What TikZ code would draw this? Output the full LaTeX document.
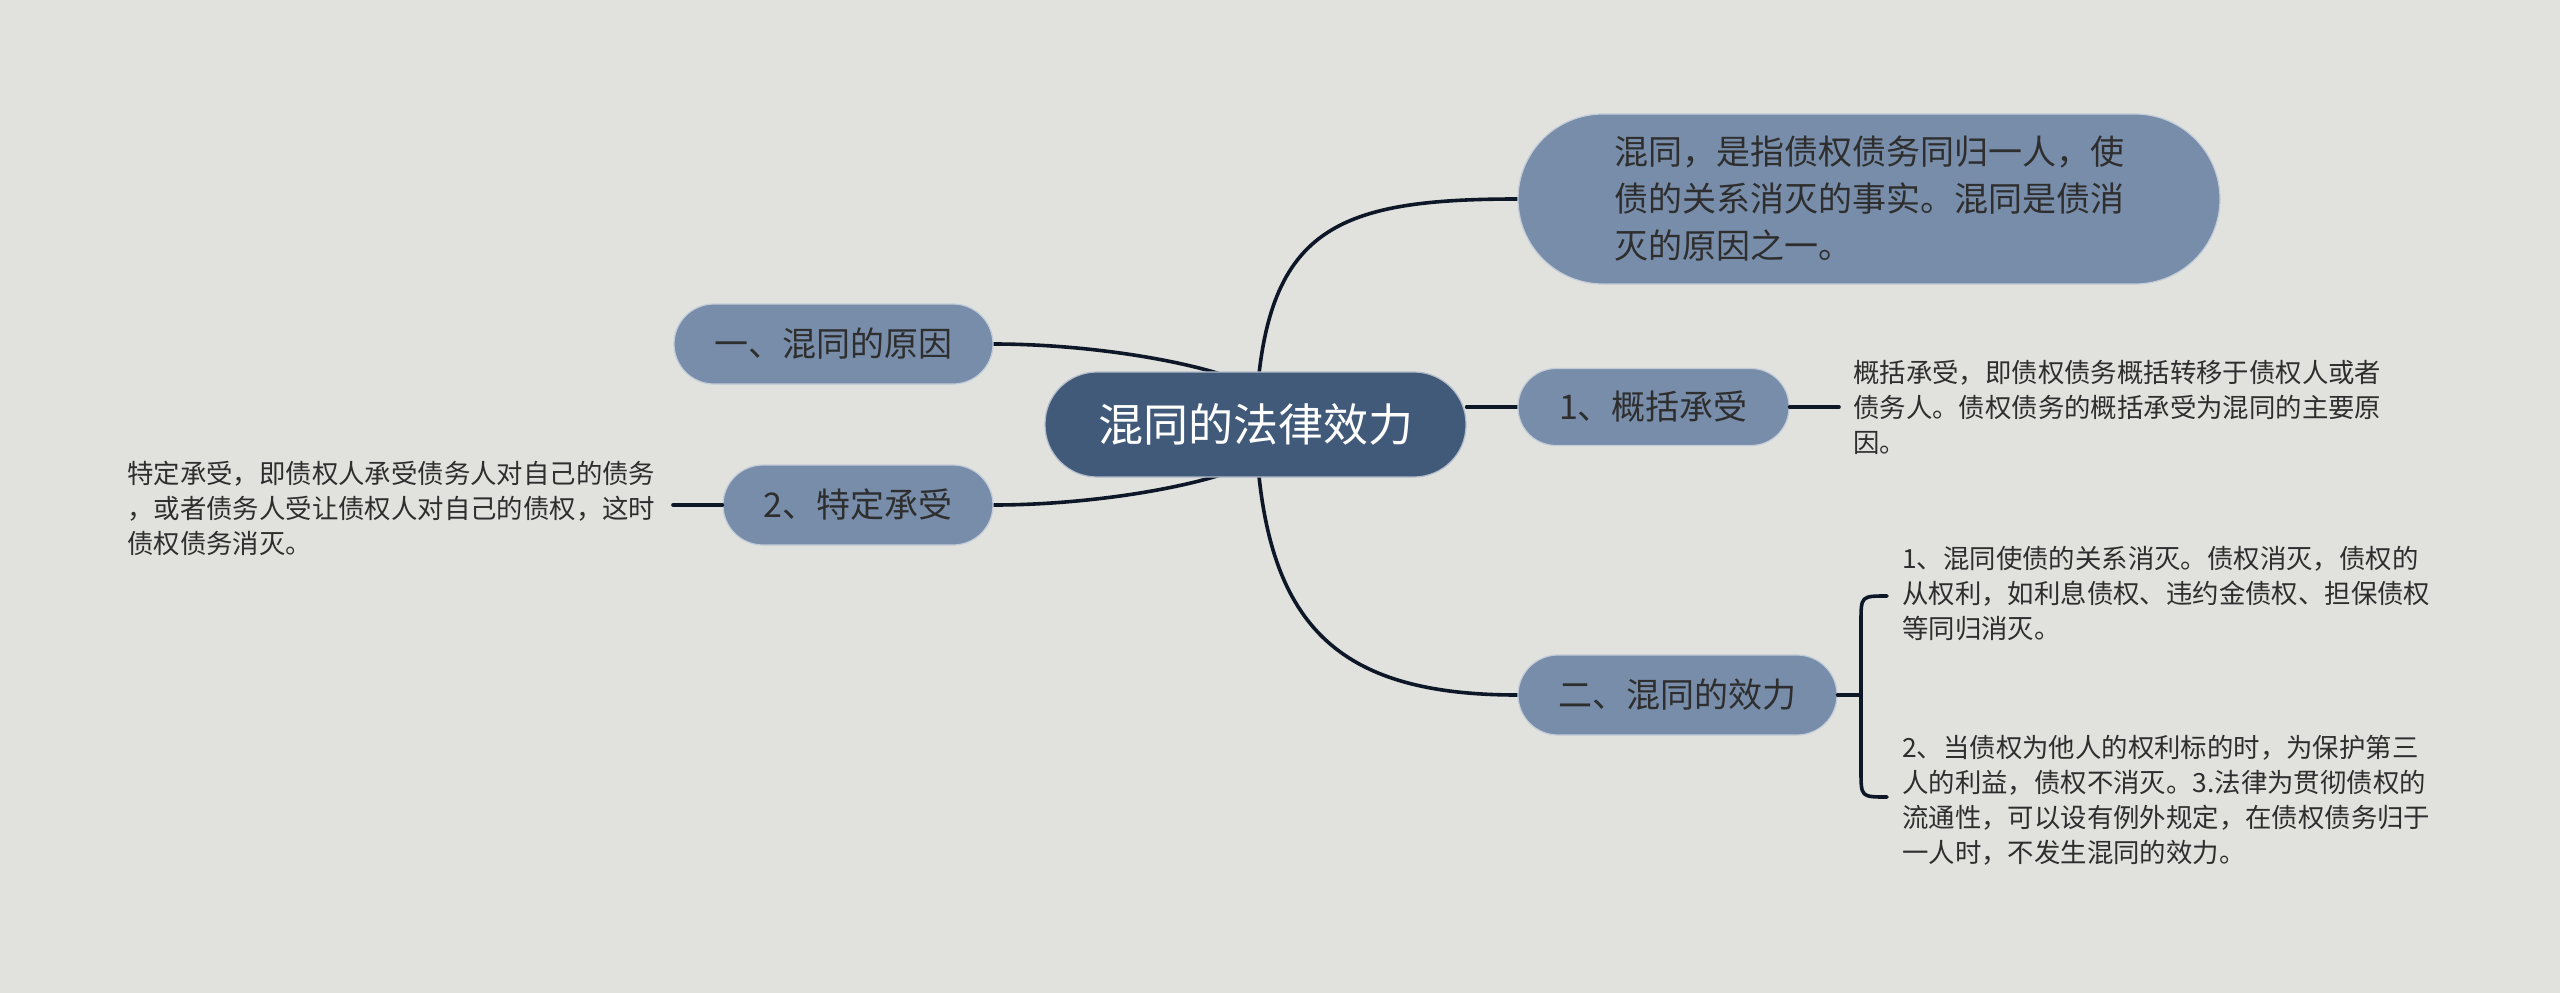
\documentclass[tikz,border=0pt]{standalone}
\usepackage{fontspec}
\setmainfont{Noto Sans CJK SC}
\definecolor{bg}{HTML}{E1E2DD}
\definecolor{branch}{HTML}{788DAA}
\definecolor{rootc}{HTML}{425A7A}
\definecolor{linec}{HTML}{0D1727}
\definecolor{txt}{HTML}{2E2E2E}
\pgfdeclarelayer{background}
\pgfdeclarelayer{backdrop}
\pgfsetlayers{backdrop,background,main}
\begin{document}
\begin{tikzpicture}[x=1pt,y=-1pt,
  rootbox/.style={fill=rootc,draw=white!60!rootc,line width=1.2pt,rounded corners=52pt,
    minimum width=421pt,minimum height=105pt,inner sep=0pt,text=white,
    font=\fontsize{45}{54}\selectfont},
  branchbox/.style={fill=branch,draw=white!55!branch,line width=1.2pt,rounded corners=40pt,
    minimum height=80pt,inner sep=0pt,text=txt,font=\fontsize{34}{47}\selectfont},
  desc/.style={inner sep=0pt,text=txt,align=left,font=\fontsize{26.4}{35}\selectfont},
  conn/.style={draw=linec,line width=3.6pt,line cap=round}]
\begin{pgfonlayer}{backdrop}
\fill[bg] (0,0) rectangle (2560,993);
\end{pgfonlayer}
\useasboundingbox (0,0) rectangle (2560,993);

\node[rootbox] (c) at (1255.5,424.5) {混同的法律效力};
\node[branchbox,minimum width=702pt,minimum height=170pt,rounded corners=85pt,align=left] (t) at (1869,199)
  {混同，是指债权债务同归一人，使\\债的关系消灭的事实。混同是债消\\灭的原因之一。\hspace*{10pt}};
\node[branchbox,minimum width=271pt,minimum height=77pt,rounded corners=38pt] (n1) at (1653.5,407) {1、概括承受};
\node[branchbox,minimum width=319pt] (n2) at (1677.5,695) {二、混同的效力};
\node[branchbox,minimum width=319pt] (l1) at (833.5,344) {一、混同的原因};
\node[branchbox,minimum width=270pt] (l2) at (858,505) {2、特定承受};

\node[desc,anchor=west] (d1) at (1853,407)
  {概括承受，即债权债务概括转移于债权人或者\\债务人。债权债务的概括承受为混同的主要原\\因。};
\node[desc,anchor=west] (e1) at (1902,593)
  {1、混同使债的关系消灭。债权消灭，债权的\\从权利，如利息债权、违约金债权、担保债权\\等同归消灭。};
\node[desc,anchor=west] (e2) at (1902,800)
  {2、当债权为他人的权利标的时，为保护第三\\人的利益，债权不消灭。3.法律为贯彻债权的\\流通性，可以设有例外规定，在债权债务归于\\一人时，不发生混同的效力。};
\node[desc,anchor=west] (ld) at (127,508)
  {特定承受，即债权人承受债务人对自己的债务\\，或者债务人受让债权人对自己的债权，这时\\债权债务消灭。};

\coordinate (d1in) at (1839,407);
\coordinate (ldin) at (673,505);
\coordinate (bx) at (1861,695);
\coordinate (btop) at (1887,596);
\coordinate (bbot) at (1887,797);
\coordinate (lu) at (1250,385);
\coordinate (ll) at (1250,464);

\begin{pgfonlayer}{background}
\draw[conn] (c.center) .. controls (1262,230) and (1330,199) .. (t.west);
\draw[conn] (c.center) .. controls (1262,620) and (1330,695) .. (n2.west);
\draw[conn] (c.east |- n1.west) -- (n1.west);
\draw[conn] (lu) .. controls (1200,362) and (1090,344) .. (l1.east);
\draw[conn] (ll) .. controls (1200,487) and (1090,505) .. (l2.east);
\end{pgfonlayer}
\draw[conn] (n1.east) -- (d1in);
\draw[conn] (l2.west) -- (ldin);
\draw[conn] (n2.east) -- (bx);
\draw[conn] (btop) .. controls (1861,596) .. (1861,622) -- (1861,771) .. controls (1861,797) .. (bbot);
\end{tikzpicture}
\end{document}
